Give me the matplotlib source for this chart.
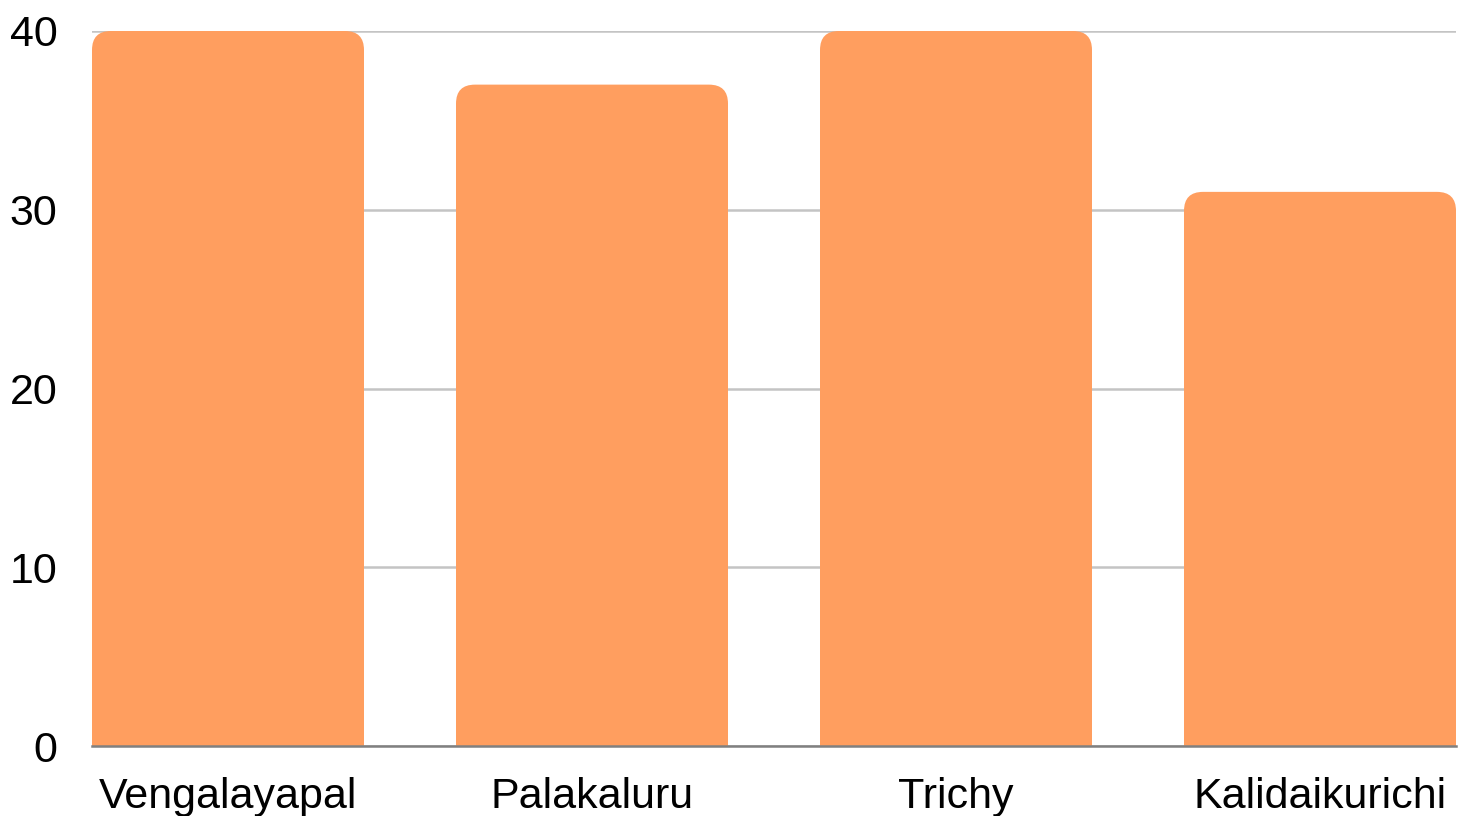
import matplotlib.pyplot as plt
from matplotlib.path import Path
from matplotlib.patches import PathPatch

categories = ["Vengalayapal", "Palakaluru", "Trichy", "Kalidaikurichi"]
values = [40, 37, 40, 31]
yticks = [0, 10, 20, 30, 40]

bar_color = "#FF9E5F"
W, H, DPI = 1463, 816, 100

plt.rcParams['font.family'] = ['Liberation Sans', 'DejaVu Sans']

fig = plt.figure(figsize=(W / DPI, H / DPI), dpi=DPI)
left, right, top, bottom = 92, 1456, 31, 746
ax = fig.add_axes([left / W, 1 - bottom / H, (right - left) / W, (bottom - top) / H])

width = 272 / 364
x = list(range(len(categories)))
bars = ax.bar(x, values, width=width, color=bar_color, alpha=0)  # placeholders

ax.set_xlim(-width / 2, len(categories) - 1 + width / 2)
ax.set_ylim(0, 40)

# rounded top corners, radius in pixels converted to data units
r_px = 19
ax_w = right - left
ax_h = bottom - top
rx = r_px * (ax.get_xlim()[1] - ax.get_xlim()[0]) / ax_w
ry = r_px * 40 / ax_h
for b in bars:
    x0, y0 = b.get_x(), b.get_y()
    x1, y1 = x0 + b.get_width(), y0 + b.get_height()
    verts = [(x0, y0), (x0, y1 - ry), (x0, y1), (x0 + rx, y1),
             (x1 - rx, y1), (x1, y1), (x1, y1 - ry), (x1, y0), (x0, y0)]
    codes = [Path.MOVETO, Path.LINETO, Path.CURVE3, Path.CURVE3,
             Path.LINETO, Path.CURVE3, Path.CURVE3, Path.LINETO, Path.CLOSEPOLY]
    ax.add_patch(PathPatch(Path(verts, codes), facecolor=bar_color, edgecolor="none", zorder=3))

ax.set_yticks(yticks)
ax.set_xticks(x)
ax.set_xticklabels(categories)
ax.grid(axis="y", color="#C4C4C4", linewidth=1.8, zorder=0)
ax.set_axisbelow(True)
for s in ["top", "right", "left"]:
    ax.spines[s].set_visible(False)
ax.spines["bottom"].set_color("#808080")
ax.spines["bottom"].set_linewidth(1.8)
ax.spines["bottom"].set_zorder(4)
ax.tick_params(axis="y", length=0, pad=25, labelsize=31)
ax.tick_params(axis="x", length=0, pad=22, labelsize=31)

fig.savefig("out.png", dpi=DPI)
